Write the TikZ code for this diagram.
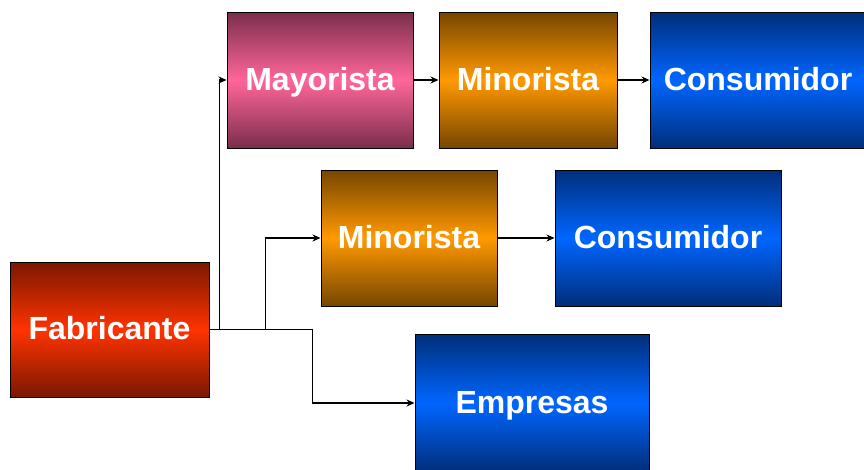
\documentclass[tikz,border=0pt]{standalone}
\usepackage{fontspec}
\setmainfont{Liberation Sans}
\usetikzlibrary{arrows.meta}
\definecolor{redD}{HTML}{7A1800}
\definecolor{redL}{HTML}{FF3300}
\definecolor{pinkD}{HTML}{7A2E4C}
\definecolor{pinkL}{HTML}{FF6699}
\definecolor{orD}{HTML}{764600}
\definecolor{orL}{HTML}{FF9900}
\definecolor{blD}{HTML}{002E7A}
\definecolor{blL}{HTML}{0066FF}
\tikzset{
  box/.style={draw=black, line width=1pt, inner sep=0pt,
    text height=23pt, text depth=3pt,
    text=white, font=\fontsize{32}{38}\selectfont\bfseries},
  redbox/.style={box, top color=redD, bottom color=redD, middle color=redL},
  pinkbox/.style={box, top color=pinkD, bottom color=pinkD, middle color=pinkL},
  orbox/.style={box, top color=orD, bottom color=orD, middle color=orL},
  bluebox/.style={box, top color=blD, bottom color=blD, middle color=blL},
  arr/.style={line width=1.3pt, -{Stealth[length=8pt,width=7pt]}},
}
\begin{document}
\begin{tikzpicture}[x=1pt,y=-1pt]
\useasboundingbox (0,0) rectangle (864,469);
\clip (0,0) rectangle (864,469);
\node[redbox, minimum width=199, minimum height=135] (fab) at (109.5,329.5) {Fabricante};
\node[pinkbox, minimum width=186, minimum height=136] (may) at (320,80) {Mayorista};
\node[orbox, minimum width=178, minimum height=136] (min1) at (528,80) {Minorista};
\node[bluebox, minimum width=216, minimum height=136] (con1) at (758,80) {Consumidor};
\node[orbox, minimum width=176, minimum height=136] (min2) at (409,238) {Minorista};
\node[bluebox, minimum width=226, minimum height=136] (con2) at (668,238) {Consumidor};
\node[bluebox, minimum width=234, minimum height=138] (emp) at (532,403) {Empresas};
\draw[arr] (fab.east) -- ++(10,0) |- (may.west);
\draw[arr] (fab.east) -- ++(56,0) |- (min2.west);
\draw[arr] (fab.east) -- ++(103,0) |- (emp.west);
\draw[arr] (may.east) -- (min1.west);
\draw[arr] (min1.east) -- (con1.west);
\draw[arr] (min2.east) -- (con2.west);
\end{tikzpicture}
\end{document}
